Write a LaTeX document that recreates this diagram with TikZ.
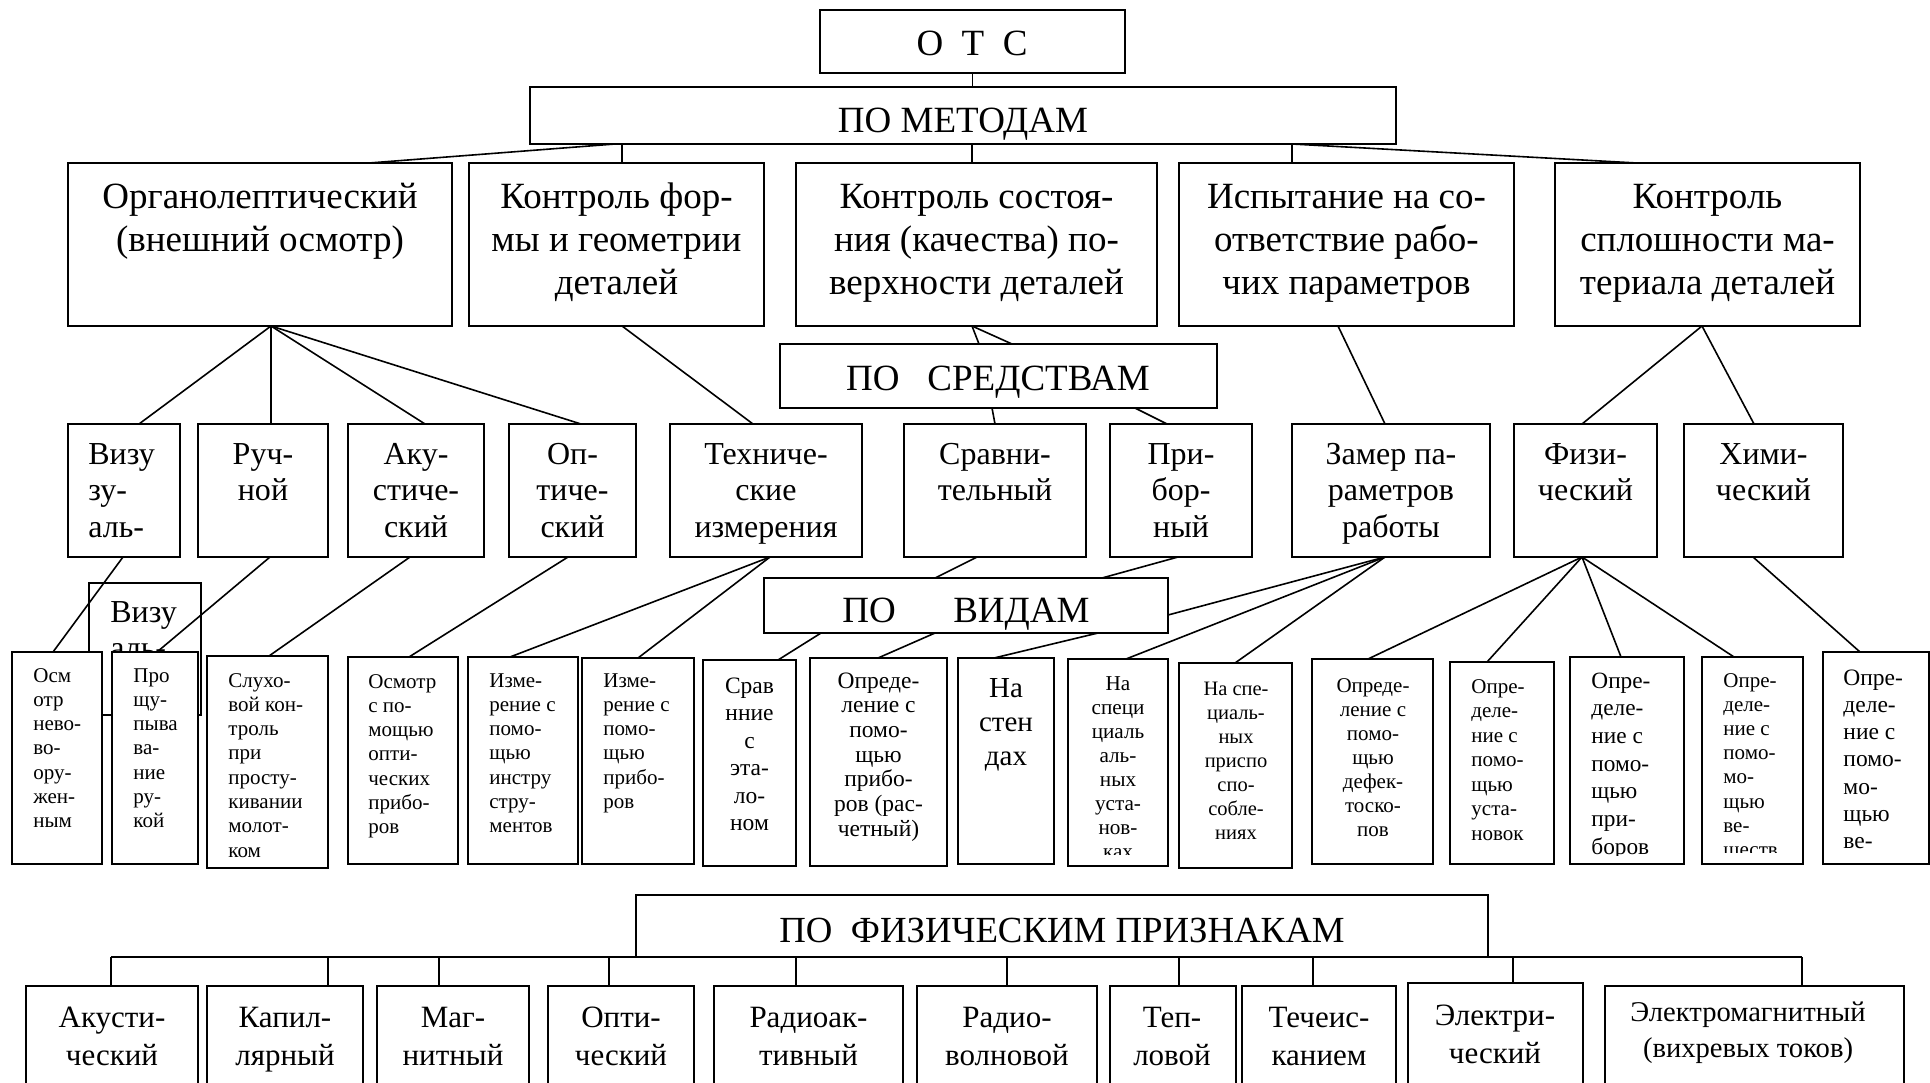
\documentclass[tikz,border=0pt]{standalone}
\usepackage{fontspec}
\setmainfont{Liberation Serif}
\usetikzlibrary{calc}
\newcommand{\Ct}[1]{\begin{tabular}[t]{@{}c@{}}#1\end{tabular}}
\newcommand{\Lt}[1]{\begin{tabular}[t]{@{}l@{}}#1\end{tabular}}
\newcommand{\fRone}{\fontsize{18.5}{21.5}\selectfont}
\newcommand{\fRtwo}{\fontsize{16}{18.35}\selectfont}
\newcommand{\fHead}{\fontsize{18.5}{21}\selectfont}
\newcommand{\fBot}{\fontsize{15.5}{19}\selectfont}
\newcommand{\mkbox}[5]{\node[bx, minimum width={(#4-#2)*0.5pt}, minimum height={(#5-#3)*0.5pt}] (#1) at ({(#2+#4)/2},{(#3+#5)/2}) {};}
\tikzset{
  bx/.style={draw, line width=1pt, fill=white, inner sep=0pt, outer sep=0pt},
  cn/.style={line width=0.8pt},
  thincn/.style={line width=0.55pt},
  tc/.style={inner sep=0pt, anchor=base},
  tl/.style={inner sep=0pt, anchor=base west},
}
\begin{document}
\begin{tikzpicture}[x=0.5pt,y=-0.5pt]
\useasboundingbox (0,0) rectangle (1930,1082);
\clip (0,0) rectangle (1930,1082);
\fill[white] (0,0) rectangle (1930,1082);

% hidden extra box
\mkbox{viz2}{89}{583}{201}{715}
\node[tl, font=\fRtwo] (tviz2) at (110,622) {\Lt{Визу\\аль-}};

% top
\mkbox{otc}{820}{10}{1125}{73}
\node[tc, font=\fHead] (totc) at (972,55) {О\ \ Т\ \ С};
\mkbox{pomet}{530}{87}{1396}{144}
\node[tc, font=\fHead] (tpomet) at (963,132) {ПО МЕТОДАМ};

% row 1
\mkbox{r1a}{68}{163}{452}{326}
\mkbox{r1b}{469}{163}{764}{326}
\mkbox{r1c}{796}{163}{1157}{326}
\mkbox{r1d}{1179}{163}{1514}{326}
\mkbox{r1e}{1555}{163}{1860}{326}
\node[tc, font=\fRone] (t1a) at (260,208) {\Ct{Органолептический\\(внешний осмотр)}};
\node[tc, font=\fRone] (t1b) at (616.5,208) {\Ct{Контроль фор-\\мы и геометрии\\деталей}};
\node[tc, font=\fRone] (t1c) at (976.5,208) {\Ct{Контроль состоя-\\ния (качества) по-\\верхности деталей}};
\node[tc, font=\fRone] (t1d) at (1346.5,208) {\Ct{Испытание на со-\\ответствие рабо-\\чих параметров}};
\node[tc, font=\fRone] (t1e) at (1707.5,208) {\Ct{Контроль\\сплошности ма-\\териала деталей}};

% по средствам
\mkbox{posr}{780}{344}{1217}{408}
\node[tc, font=\fHead] (tposr) at (998,390) {ПО\hspace{0.75em}СРЕДСТВАМ};

% row 2
\mkbox{viz}{68}{424}{180}{557}
\mkbox{ruch}{198}{424}{328}{557}
\mkbox{akus}{348}{424}{484}{557}
\mkbox{opt}{509}{424}{636}{557}
\mkbox{tech}{670}{424}{862}{557}
\mkbox{sravn}{904}{424}{1086}{557}
\mkbox{prib}{1110}{424}{1252}{557}
\mkbox{zamer}{1292}{424}{1490}{557}
\mkbox{fiz}{1514}{424}{1657}{557}
\mkbox{him}{1684}{424}{1843}{557}
\node[tl, font=\fRtwo] (tviz) at (88,464) {\Lt{Визу\\зу-\\аль-}};
\node[tc, font=\fRtwo] (truch) at (263,464) {\Ct{Руч-\\ной}};
\node[tc, font=\fRtwo] (takus) at (416,464) {\Ct{Аку-\\стиче-\\ский}};
\node[tc, font=\fRtwo] (topt) at (572.5,464) {\Ct{Оп-\\тиче-\\ский}};
\node[tc, font=\fRtwo] (ttech) at (766,464) {\Ct{Техниче-\\ские\\измерения}};
\node[tc, font=\fRtwo] (tsravn) at (995,464) {\Ct{Сравни-\\тельный}};
\node[tc, font=\fRtwo] (tprib) at (1181,464) {\Ct{При-\\бор-\\ный}};
\node[tc, font=\fRtwo] (tzamer) at (1391,464) {\Ct{Замер па-\\раметров\\работы}};
\node[tc, font=\fRtwo] (tfiz) at (1585.5,464) {\Ct{Физи-\\ческий}};
\node[tc, font=\fRtwo] (thim) at (1763.5,464) {\Ct{Хими-\\ческий}};

% по видам
\mkbox{povid}{764}{578}{1168}{633}
\node[tc, font=\fHead] (tpovid) at (966,622) {ПО\hspace{1.55em}ВИДАМ};

% row 3
\mkbox{c1}{12}{652}{102}{864}
\mkbox{c2}{112}{652}{198}{864}
\mkbox{c3}{207}{656}{328}{868}
\mkbox{c4}{348}{657}{458}{864}
\mkbox{c5}{468}{657}{578}{864}
\mkbox{c6}{582}{658}{694}{864}
\mkbox{c7}{703}{660}{796}{866}
\mkbox{c8}{810}{658}{947}{866}
\mkbox{c9}{958}{658}{1054}{864}
\mkbox{c10}{1068}{659}{1168}{866}
\mkbox{c11}{1179}{663}{1292}{868}
\mkbox{c12}{1312}{659}{1433}{864}
\mkbox{c13}{1450}{662}{1554}{864}
\mkbox{c14}{1570}{657}{1684}{864}
\mkbox{c15}{1702}{657}{1803}{864}
\mkbox{c16}{1823}{652}{1929}{864}

\node[tl, font=\fontsize{10.5}{12.15}\selectfont] (tc1) at (33,682) {\Lt{Осм\\отр\\нево-\\во-\\ору-\\жен-\\ным}};
\node[tl, font=\fontsize{10.5}{12.15}\selectfont] (tc2) at (133,682) {\Lt{Про\\щу-\\пыва\\ва-\\ние\\ру-\\кой}};
\node[tl, font=\fontsize{10.5}{12.15}\selectfont] (tc3) at (228,687) {\Lt{Слухо-\\вой кон-\\троль\\при\\просту-\\кивании\\молот-\\ком}};
\node[tl, font=\fontsize{10.5}{12.15}\selectfont] (tc4) at (368,688) {\Lt{Осмотр\\с по-\\мощью\\опти-\\ческих\\прибо-\\ров}};
\node[tl, font=\fontsize{10.5}{12.15}\selectfont] (tc5) at (489,687) {\Lt{Изме-\\рение с\\помо-\\щью\\инстру\\стру-\\ментов}};
\node[tl, font=\fontsize{10.5}{12.15}\selectfont] (tc6) at (603,687) {\Lt{Изме-\\рение с\\помо-\\щью\\прибо-\\ров}};
\node[tc, font=\fontsize{11.75}{13.75}\selectfont] (tc7) at (749.5,693) {\Ct{Срав\\нние\\с\\эта-\\ло-\\ном}};
\node[tc, font=\fontsize{11.75}{12.35}\selectfont] (tc8) at (878.5,688) {\Ct{Опреде-\\ление с\\помо-\\щью\\прибо-\\ров (рас-\\четный)}};
\node[tc, font=\fontsize{14.5}{17}\selectfont] (tc9) at (1006,697) {\Ct{На\\стен\\дах}};
\begin{scope}
\clip (c10.north west) rectangle ($(c10.south east)+(0,-12)$);
\node[tc, font=\fontsize{10.6}{12}\selectfont] (tc10) at (1118,690) {\Ct{На\\специ\\циаль\\аль-\\ных\\уста-\\нов-\\ках}};
\end{scope}
\node[tc, font=\fontsize{10.25}{12}\selectfont] (tc11) at (1236,695) {\Ct{На спе-\\циаль-\\ных\\приспо\\спо-\\собле-\\ниях}};
\node[tc, font=\fontsize{10.5}{12}\selectfont] (tc12) at (1373,692) {\Ct{Опреде-\\ление с\\помо-\\щью\\дефек-\\тоско-\\пов}};
\node[tl, font=\fontsize{10.5}{12.25}\selectfont] (tc13) at (1471,693) {\Lt{Опре-\\деле-\\ние с\\помо-\\щью\\уста-\\новок}};
\begin{scope}
\clip (c14.north west) rectangle ($(c14.south east)+(0,-9)$);
\node[tl, font=\fontsize{11.65}{13.85}\selectfont] (tc14) at (1591,688) {\Lt{Опре-\\деле-\\ние с\\помо-\\щью\\при-\\боров}};
\end{scope}
\begin{scope}
\clip (c15.north west) rectangle ($(c15.south east)+(0,-12)$);
\node[tl, font=\fontsize{10.5}{12.1}\selectfont] (tc15) at (1723,687) {\Lt{Опре-\\деле-\\ние с\\помо-\\мо-\\щью\\ве-\\ществ}};
\end{scope}
\node[tl, font=\fontsize{11.75}{13.65}\selectfont] (tc16) at (1843,685) {\Lt{Опре-\\деле-\\ние с\\помо-\\мо-\\щью\\ве-}};

% bottom section
\mkbox{pofiz}{636}{895}{1488}{957}
\node[tc, font=\fontsize{18.4}{21}\selectfont] (tpofiz) at (1062,942) {ПО\ \ ФИЗИЧЕСКИМ ПРИЗНАКАМ};
\mkbox{d1}{26}{986}{198}{1100}
\mkbox{d2}{207}{986}{363}{1100}
\mkbox{d3}{377}{986}{529}{1100}
\mkbox{d4}{548}{986}{694}{1100}
\mkbox{d5}{714}{986}{903}{1100}
\mkbox{d6}{917}{986}{1097}{1100}
\mkbox{d7}{1110}{986}{1236}{1100}
\mkbox{d8}{1242}{986}{1396}{1100}
\mkbox{d9}{1408}{983}{1583}{1100}
\mkbox{d10}{1605}{986}{1904}{1100}
\node[tc, font=\fBot] (td1) at (112,1027) {\Ct{Акусти-\\ческий}};
\node[tc, font=\fBot] (td2) at (285,1027) {\Ct{Капил-\\лярный}};
\node[tc, font=\fBot] (td3) at (453,1027) {\Ct{Маг-\\нитный}};
\node[tc, font=\fBot] (td4) at (621,1027) {\Ct{Опти-\\ческий}};
\node[tc, font=\fBot] (td5) at (808.5,1027) {\Ct{Радиоак-\\тивный}};
\node[tc, font=\fBot] (td6) at (1007,1027) {\Ct{Радио-\\волновой}};
\node[tc, font=\fBot] (td7) at (1172,1027) {\Ct{Теп-\\ловой}};
\node[tc, font=\fBot] (td8) at (1319,1027) {\Ct{Течеис-\\канием}};
\node[tc, font=\fBot] (td9) at (1495,1025) {\Ct{Электри-\\ческий}};
\node[tc, font=\fontsize{14.3}{18}\selectfont] (td10) at (1748,1021) {\Ct{Электромагнитный\\(вихревых токов)}};

% connectors: top
\draw[cn] (otc.south) -- (otc.south |- pomet.north);
\draw[cn] (pomet.south -| 615,0) -- (r1a.north -| 369,0);
\draw[cn] (pomet.south -| 622,0) -- (r1b.north -| 622,0);
\draw[cn] (pomet.south -| 972,0) -- (r1c.north -| 972,0);
\draw[cn] (pomet.south -| 1292,0) -- (r1d.north -| 1292,0);
\draw[cn] (pomet.south -| 1292,0) -- (r1e.north -| 1637,0);

% row 1 -> row 2
\draw[cn] (r1a.south -| 271,0) -- (viz.north -| 139,0);
\draw[cn] (r1a.south -| 271,0) -- (ruch.north -| 271,0);
\draw[cn] (r1a.south -| 271,0) -- (akus.north -| 425,0);
\draw[cn] (r1a.south -| 271,0) -- (opt.north -| 581,0);
\draw[cn] (r1b.south -| 622,0) -- (tech.north -| 753,0);
\draw[cn] (r1c.south -| 972,0) -- (posr.north -| 979,0);
\draw[cn] (r1c.south -| 972,0) -- (posr.north -| 1012,0);
\draw[cn] (posr.south -| 992,0) -- (sravn.north -| 995,0);
\draw[cn] (posr.south -| 1135,0) -- (prib.north -| 1167,0);
\draw[cn] (r1d.south -| 1338,0) -- (zamer.north -| 1385,0);
\draw[cn] (r1e.south -| 1702,0) -- (fiz.north -| 1582,0);
\draw[cn] (r1e.south -| 1702,0) -- (him.north -| 1754,0);

% row 2 -> row 3
\draw[cn] (viz.south -| 123,0) -- (c1.north -| 53,0);
\draw[cn] (ruch.south -| 270,0) -- (c2.north -| 157,0);
\draw[cn] (akus.south -| 410,0) -- (c3.north -| 269,0);
\draw[cn] (opt.south -| 568,0) -- (c4.north -| 409,0);
\draw[cn] (tech.south -| 770,0) -- (c5.north -| 510,0);
\draw[cn] (tech.south -| 770,0) -- (c6.north -| 638,0);
\draw[cn] (sravn.south -| 977,0) -- (povid.north -| 935,0);
\draw[cn] (prib.south -| 1178,0) -- (povid.north -| 1102,0);
\draw[cn] (povid.south -| 821,0) -- (c7.north -| 778,0);
\draw[cn] (povid.south -| 935,0) -- (c8.north -| 878,0);
\draw[cn] (povid.south -| 1098,0) -- (c9.north -| 994,0);
\draw[cn] (zamer.south -| 1385,0) -- (povid.east |- 0,615);
\draw[cn] (zamer.south -| 1385,0) -- (c10.north -| 1126,0);
\draw[cn] (zamer.south -| 1385,0) -- (c11.north -| 1235,0);
\draw[cn] (fiz.south -| 1582,0) -- (c12.north -| 1368,0);
\draw[cn] (fiz.south -| 1582,0) -- (c13.north -| 1487,0);
\draw[cn] (fiz.south -| 1582,0) -- (c14.north -| 1621,0);
\draw[cn] (fiz.south -| 1582,0) -- (c15.north -| 1734,0);
\draw[cn] (him.south -| 1753,0) -- (c16.north -| 1860,0);

% bottom bus
\coordinate (busL) at (111,957);
\coordinate (busR) at (1802,957);
\draw[thincn] (busL) -- (busR);
\foreach \x/\n in {111/d1, 328/d2, 439/d3, 609/d4, 796/d5, 1007/d6, 1179/d7, 1313/d8, 1513/d9, 1802/d10}
  \draw[thincn] (busL -| \x,0) -- (\n.north -| \x,0);
\end{tikzpicture}
\end{document}
